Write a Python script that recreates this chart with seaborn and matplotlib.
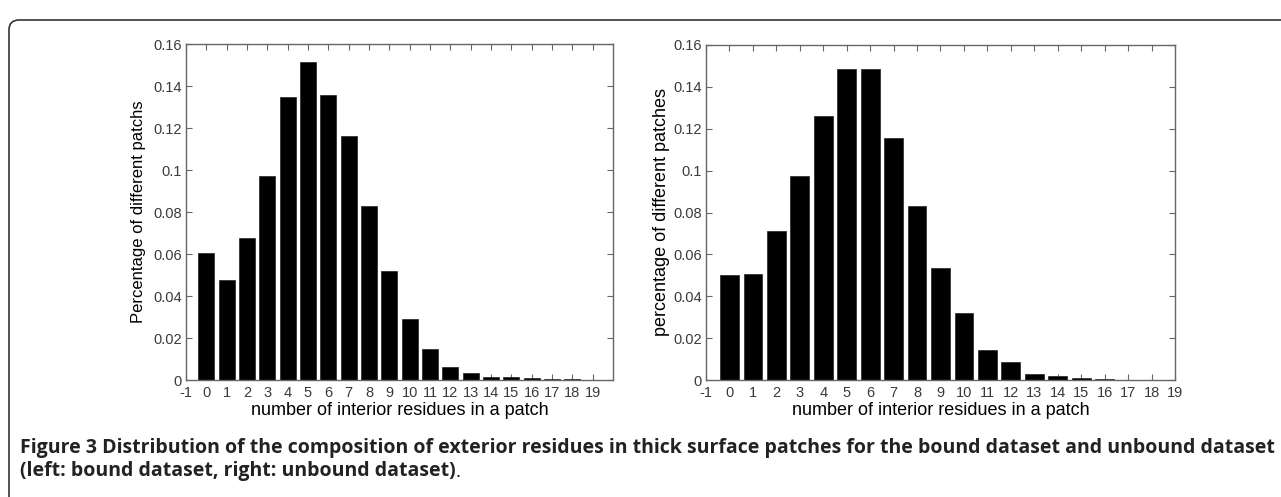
import matplotlib
matplotlib.use("Agg")
import matplotlib.pyplot as plt
import seaborn as sns
from matplotlib import font_manager
from matplotlib.patches import FancyBboxPatch
from matplotlib.transforms import IdentityTransform

# number of interior residues in a patch
residues = list(range(20))

# left: bound dataset
bound = [0.0605, 0.0476, 0.0676, 0.0970, 0.1350, 0.1514, 0.1358, 0.1164, 0.0829, 0.0520,
         0.0289, 0.0148, 0.0064, 0.0032, 0.0013, 0.0013, 0.0008, 0.0004, 0.0003, 0.0001]
# right: unbound dataset
unbound = [0.0500, 0.0504, 0.0710, 0.0974, 0.1262, 0.1483, 0.1483, 0.1157, 0.0830, 0.0533,
           0.0321, 0.0144, 0.0087, 0.0028, 0.0019, 0.0009, 0.0005, 0.0001, 0.0001, 0.0]

ytick_vals = [0, 0.02, 0.04, 0.06, 0.08, 0.1, 0.12, 0.14, 0.16]
ytick_labels = ["0", "0.02", "0.04", "0.06", "0.08", "0.1", "0.12", "0.14", "0.16"]
xtick_vals = list(range(-1, 20))

caption_1 = ("Figure 3 Distribution of the composition of exterior residues in thick surface "
             "patches for the bound dataset and unbound dataset")
caption_2 = "(left: bound dataset, right: unbound dataset)"

sns.set_style("ticks")
plt.rcParams["font.family"] = ["Liberation Sans", "DejaVu Sans"]

W, H = 1281, 497
fig = plt.figure(figsize=(W / 100, H / 100), dpi=100)
fig.patch.set_facecolor("white")

spine_col = "#666666"
tick_col = "#3a3a3a"


def panel(rect, values, ylabel, ylab_size, xmax, ylab_x):
    ax = fig.add_axes(rect)
    sns.barplot(x=residues, y=values, native_scale=True, color="black", saturation=1,
                width=0.8, errorbar=None, edgecolor="#222222", linewidth=0.5, ax=ax)
    ax.set_xlim(-1, xmax)
    ax.set_ylim(0, 0.16)
    ax.set_xticks(xtick_vals)
    ax.set_xticklabels([str(v) for v in xtick_vals])
    ax.set_yticks(ytick_vals)
    ax.set_yticklabels(ytick_labels)
    ax.tick_params(direction="in", length=4, width=0.8, color=spine_col,
                   labelsize=10.5, labelcolor=tick_col, top=True, right=True)
    ax.tick_params(axis="x", pad=4)
    ax.tick_params(axis="y", pad=3)
    for s in ax.spines.values():
        s.set_visible(True)
        s.set_color(spine_col)
        s.set_linewidth(1.0)
    ax.set_xlabel("number of interior residues in a patch", fontsize=13, color="black")
    ax.set_ylabel(ylabel, fontsize=ylab_size, color="black")
    ax.xaxis.set_label_coords(0.5, -0.09)
    ax.xaxis.label.set_verticalalignment("center")
    ax.yaxis.set_label_coords(ylab_x, 0.5)
    ax.yaxis.label.set_verticalalignment("center")
    return ax


ax1 = panel([186 / W, 1 - 380 / H, 427 / W, 336 / H], bound,
            "Percentage of different patchs", 12, 20, -0.112)
ax2 = panel([706 / W, 1 - 380 / H, 469 / W, 335 / H], unbound,
            "percentage of different patches", 13, 19, -0.094)

# rounded frame around the figure
frame = FancyBboxPatch((9, -30), W + 30, H - 10 + 30 - 10,
                       boxstyle="round,pad=0,rounding_size=10",
                       transform=IdentityTransform(), facecolor="none",
                       edgecolor="#333333", linewidth=1.2)
fig.add_artist(frame)

# caption
avail = {f.name for f in font_manager.fontManager.ttflist}
cap_font = "Open Sans" if "Open Sans" in avail else "DejaVu Sans"
t1 = fig.text(20 / W, 1 - 448 / H, caption_1, fontsize=12, fontweight="bold",
              family=[cap_font, "DejaVu Sans"], va="center", ha="left", color="#222222")
fig.canvas.draw()
r = fig.canvas.get_renderer()
w1 = t1.get_window_extent(r).width
size = 12 * 1250 / w1
t1.set_fontsize(size)
t2 = fig.text(20 / W, 1 - 471 / H, caption_2, fontsize=size, fontweight="bold",
              family=[cap_font, "DejaVu Sans"], va="center", ha="left", color="#222222")
ax1.annotate(".", xy=(1, 0), xycoords=t2, va="bottom", ha="left", fontsize=size,
             family=[cap_font, "DejaVu Sans"], color="#222222", annotation_clip=False)

fig.savefig("out.png", dpi=100, facecolor="white")
